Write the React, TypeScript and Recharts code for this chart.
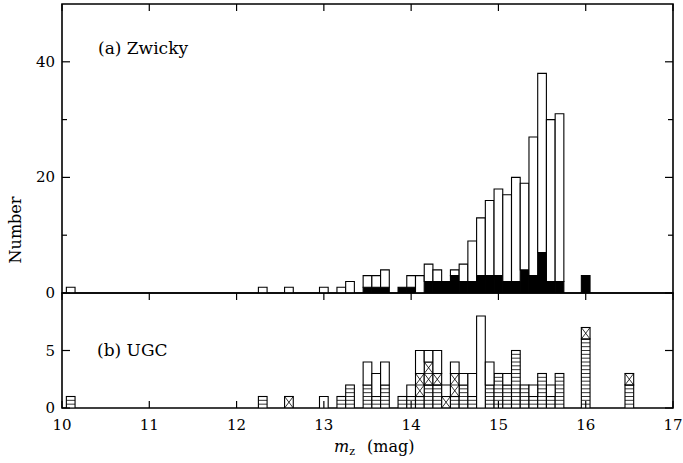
import React from 'react';
import { BarChart, Bar, XAxis, YAxis, ReferenceArea } from 'recharts';

// (a) Zwicky: bin centres (mag), total counts and the filled subset
const zwickyBins = [10.1, 12.3, 12.6, 13.0, 13.2, 13.3, 13.5, 13.6, 13.7, 13.9, 14.0, 14.1, 14.2, 14.3, 14.4, 14.5, 14.6, 14.7, 14.8, 14.9, 15.0, 15.1, 15.2, 15.3, 15.4, 15.5, 15.6, 15.7, 16.0];
const zwickyTotal = [1, 1, 1, 1, 1, 2, 3, 3, 4, 1, 3, 3, 5, 4, 2, 4, 5, 9, 13, 16, 18, 17, 20, 19, 27, 38, 30, 31, 3];
const zwickyFilled = [0, 0, 0, 0, 0, 0, 1, 1, 1, 1, 1, 0, 2, 2, 2, 3, 2, 2, 3, 3, 3, 2, 2, 4, 3, 7, 2, 2, 3];

// (b) UGC: hatched, cross-hatched and open parts of each bin
const ugcBins = [10.1, 12.3, 12.6, 13.0, 13.2, 13.3, 13.5, 13.6, 13.7, 13.9, 14.0, 14.1, 14.2, 14.3, 14.4, 14.5, 14.6, 14.7, 14.8, 14.9, 15.0, 15.1, 15.2, 15.3, 15.4, 15.5, 15.6, 15.7, 16.0, 16.5];
const ugcHatched = [1, 1, 0, 0, 1, 2, 2, 1, 2, 1, 1, 1, 2, 2, 0, 1, 2, 1, 0, 2, 3, 2, 5, 2, 1, 3, 1, 3, 6, 2];
const ugcCrossed = [0, 0, 1, 0, 0, 0, 0, 0, 0, 0, 0, 2, 2, 1, 1, 2, 0, 0, 0, 0, 0, 0, 0, 0, 0, 0, 0, 0, 1, 1];
const ugcOpen = [0, 0, 0, 1, 0, 0, 2, 2, 2, 0, 1, 2, 1, 2, 1, 1, 1, 2, 8, 2, 0, 1, 0, 0, 1, 0, 1, 0, 0, 0];

const magTicks = [10, 11, 12, 13, 14, 15, 16, 17];
const zwickyTicks = [0, 10, 20, 30, 40, 50];
const ugcTicks = [0, 5, 10];

const FONT = '"DejaVu Serif", "Liberation Serif", serif';
const W = 683;
const LEFT = 62;
const RIGHT = 10;
const PLOT_W = W - LEFT - RIGHT;
const TOP_H = 289;
const BOT_H = 115;
const TOP_AXIS_H = 14;
const BAR_W = PLOT_W / 70 - 0.04;

const zwickyData = zwickyBins.map((m, i) => ({
  m,
  filled: zwickyFilled[i],
  open: zwickyTotal[i] - zwickyFilled[i],
}));

const ugcData = ugcBins.map((m, i) => ({
  m,
  hatched: ugcHatched[i],
  crossed: ugcCrossed[i],
  open: ugcOpen[i],
}));

function makeYTick(top: number, labelEvery: number) {
  return (props: any) => {
    const { x, y, payload } = props;
    const v = payload.value;
    if (v === top) return <g />;
    const major = v % labelEvery === 0;
    const len = major ? 8 : 5;
    const xr = x + PLOT_W;
    return (
      <g>
        <line x1={x} x2={x + len} y1={y} y2={y} stroke="#000" strokeWidth={1.2} />
        <line x1={xr} x2={xr - len} y1={y} y2={y} stroke="#000" strokeWidth={1.2} />
        {major && (
          <text x={x - 7} y={y + 5} textAnchor="end" fontSize={15} fontFamily={FONT} fill="#000">
            {v}
          </text>
        )}
      </g>
    );
  };
}

const TopXTick = (props: any) => {
  const { x, y } = props;
  return <line x1={x} x2={x} y1={y - TOP_H} y2={y - TOP_H + 7} stroke="#000" strokeWidth={1.2} />;
};

const BottomXTick = (props: any) => {
  const { x, y, payload } = props;
  return (
    <g>
      <line x1={x} x2={x} y1={y} y2={y - 7} stroke="#000" strokeWidth={1.2} />
      <line x1={x} x2={x} y1={y - BOT_H} y2={y - BOT_H + 7} stroke="#000" strokeWidth={1.2} />
      <text x={x} y={y + 22} textAnchor="middle" fontSize={15} fontFamily={FONT} fill="#000">
        {payload.value}
      </text>
    </g>
  );
};

const HatchShape = (props: any) => {
  const { x, y, width, height, payload } = props;
  if (!height || height <= 0) return <g />;
  const n = payload.hatched * 3;
  const lines = [];
  for (let j = 1; j < n; j++) {
    const yy = y + (height * j) / n;
    lines.push(<line key={j} x1={x} x2={x + width} y1={yy} y2={yy} stroke="#000" strokeWidth={0.8} />);
  }
  return (
    <g>
      <rect x={x} y={y} width={width} height={height} fill="#fff" stroke="#000" strokeWidth={1.1} />
      {lines}
    </g>
  );
};

const CrossShape = (props: any) => {
  const { x, y, width, height, payload } = props;
  if (!height || height <= 0) return <g />;
  const n = payload.crossed;
  const lines = [];
  for (let i = 0; i < n; i++) {
    const y0 = y + (height * i) / n;
    const y1 = y + (height * (i + 1)) / n;
    lines.push(<line key={'a' + i} x1={x} x2={x + width} y1={y0} y2={y1} stroke="#000" strokeWidth={0.8} />);
    lines.push(<line key={'b' + i} x1={x + width} x2={x} y1={y0} y2={y1} stroke="#000" strokeWidth={0.8} />);
    lines.push(<line key={'c' + i} x1={x} x2={x + width} y1={y1} y2={y1} stroke="#000" strokeWidth={0.8} />);
  }
  return (
    <g>
      <rect x={x} y={y} width={width} height={height} fill="#fff" stroke="#000" strokeWidth={1.1} />
      {lines}
    </g>
  );
};

export default function App() {
  return (
    <div style={{ position: 'absolute', left: 0, top: 0, width: W, height: 463, background: '#fff', fontFamily: FONT }}>
      <div style={{ position: 'absolute', left: 0, top: 0 }}>
        <BarChart width={W} height={4 + TOP_H + TOP_AXIS_H} data={zwickyData} margin={{ top: 4, right: RIGHT, bottom: 0, left: 0 }}>
          <XAxis
            dataKey="m"
            type="number"
            domain={[10, 17]}
            allowDataOverflow
            ticks={magTicks}
            interval={0}
            height={TOP_AXIS_H}
            tickSize={0}
            tickMargin={0}
            axisLine={false}
            tickLine={false}
            tick={TopXTick}
          />
          <YAxis
            type="number"
            domain={[0, 50]}
            allowDataOverflow
            ticks={zwickyTicks}
            interval={0}
            width={LEFT}
            tickSize={0}
            tickMargin={0}
            axisLine={false}
            tickLine={false}
            tick={makeYTick(50, 20)}
          />
          <Bar dataKey="filled" stackId="a" barSize={BAR_W} fill="#000" stroke="#000" strokeWidth={1.1} isAnimationActive={false} />
          <Bar dataKey="open" stackId="a" barSize={BAR_W} fill="#fff" stroke="#000" strokeWidth={1.1} isAnimationActive={false} />
          <ReferenceArea x1={10} x2={17} y1={0} y2={50} fill="none" fillOpacity={0} stroke="#000" strokeWidth={1.6} ifOverflow="visible" />
        </BarChart>
      </div>
      <div style={{ position: 'absolute', left: 0, top: 283 }}>
        <BarChart width={W} height={180} data={ugcData} margin={{ top: 10, right: RIGHT, bottom: 0, left: 0 }}>
          <XAxis
            dataKey="m"
            type="number"
            domain={[10, 17]}
            allowDataOverflow
            ticks={magTicks}
            interval={0}
            height={180 - 10 - BOT_H}
            tickSize={0}
            tickMargin={0}
            axisLine={false}
            tickLine={false}
            tick={BottomXTick}
          />
          <YAxis
            type="number"
            domain={[0, 10]}
            allowDataOverflow
            ticks={ugcTicks}
            interval={0}
            width={LEFT}
            tickSize={0}
            tickMargin={0}
            axisLine={false}
            tickLine={false}
            tick={makeYTick(10, 5)}
          />
          <Bar dataKey="hatched" stackId="b" barSize={BAR_W} shape={HatchShape} isAnimationActive={false} />
          <Bar dataKey="crossed" stackId="b" barSize={BAR_W} shape={CrossShape} isAnimationActive={false} />
          <Bar dataKey="open" stackId="b" barSize={BAR_W} fill="#fff" stroke="#000" strokeWidth={1.1} isAnimationActive={false} />
          <ReferenceArea x1={10} x2={17} y1={0} y2={10} fill="none" fillOpacity={0} stroke="#000" strokeWidth={1.6} ifOverflow="visible" />
        </BarChart>
      </div>
      <div style={{ position: 'absolute', left: 98, top: 38, fontSize: 17, lineHeight: '20px', whiteSpace: 'nowrap' }}>(a) Zwicky</div>
      <div style={{ position: 'absolute', left: 97, top: 340, fontSize: 17, lineHeight: '20px', whiteSpace: 'nowrap' }}>(b) UGC</div>
      <div
        style={{
          position: 'absolute',
          left: 16,
          top: 230,
          fontSize: 16,
          lineHeight: '18px',
          whiteSpace: 'nowrap',
          transform: 'translate(-50%, -50%) rotate(-90deg)',
        }}
      >
        Number
      </div>
      <div style={{ position: 'absolute', left: 334, top: 438, fontSize: 16, lineHeight: '18px', whiteSpace: 'nowrap' }}>
        <i>m</i>
        <span style={{ fontSize: 11, verticalAlign: '-3px' }}>z</span>
        <span style={{ marginLeft: 12 }}>(mag)</span>
      </div>
    </div>
  );
}
